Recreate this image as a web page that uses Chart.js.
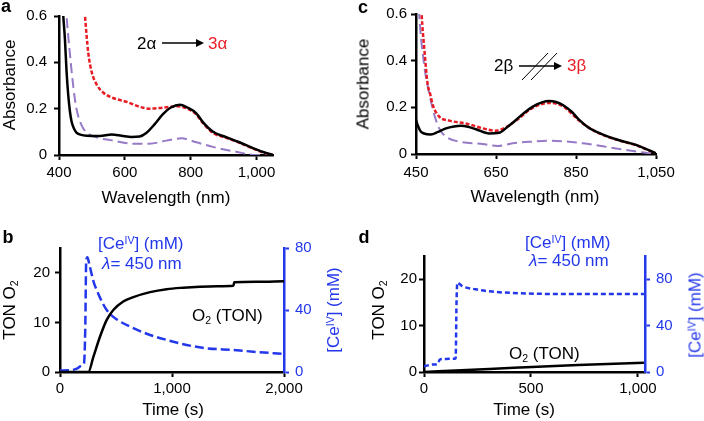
<!DOCTYPE html>
<html>
<head>
<meta charset="utf-8">
<script src="https://cdn.jsdelivr.net/npm/chart.js@4.4.0/dist/chart.umd.min.js"></script>
<style>
  html, body { margin: 0; padding: 0; background: #fff; }
  #wrap { position: relative; width: 704px; height: 421px; overflow: hidden; font-family: 'Liberation Sans', Arial, sans-serif; color: #000; }
  canvas { position: absolute; }
  .t { position: absolute; white-space: nowrap; line-height: 1; font-size: 17px; transform: translateY(-50%); }
  .c { transform: translate(-50%, -50%); }
  .r { transform: translate(-50%, -50%) rotate(-90deg); }
  .sup { position: relative; top: -0.5em; font-size: 0.62em; line-height: 0; }
  .sub { position: relative; top: 0.3em; font-size: 0.62em; line-height: 0; }
  .blue { color: rgb(35, 55, 235); }
  .red { color: rgb(232, 28, 36); }
  .letter { font-weight: bold; font-size: 18px; }
</style>
</head>
<body>
<div id="wrap">
  <canvas id="chartA" width="352" height="210" style="left:0;top:0"></canvas>
  <canvas id="chartC" width="352" height="210" style="left:352px;top:0"></canvas>
  <canvas id="chartB" width="352" height="211" style="left:0;top:210px"></canvas>
  <canvas id="chartD" width="352" height="211" style="left:352px;top:210px"></canvas>

  <div class="t c letter" style="left:6px;top:6px">a</div>
  <div class="t c letter" style="left:363px;top:7px">c</div>
  <div class="t c letter" style="left:8px;top:237px">b</div>
  <div class="t c letter" style="left:364px;top:237px">d</div>

  <!-- axis titles -->
  <div class="t c" style="left:166px;top:197px">Wavelength (nm)</div>
  <div class="t r" style="left:9px;top:85px">Absorbance</div>
  <div class="t c" style="left:535px;top:196px">Wavelength (nm)</div>
  <div class="t r" style="left:363px;top:84px">Absorbance</div>
  <div class="t c" style="left:173px;top:409px">Time (s)</div>
  <div class="t c" style="left:524px;top:409px">Time (s)</div>

  <!-- panel a / c annotations -->
  <div class="t" style="left:137px;top:43px">2α</div>
  <div class="t red" style="left:208px;top:43px">3α</div>
  <div class="t" style="left:494px;top:65px">2β</div>
  <div class="t red" style="left:567px;top:65px">3β</div>

  <!-- panel b -->
  <div class="t r" style="left:9px;top:310px">TON O<span class="sub">2</span></div>
  <div class="t r blue" style="left:333px;top:310px">[Ce<span class="sup">IV</span>] (mM)</div>
  <div class="t blue" style="left:98px;top:243px">[Ce<span class="sup">IV</span>] (mM)</div>
  <div class="t blue" style="left:102px;top:263px"><i>λ</i>= 450 nm</div>
  <div class="t" style="left:192px;top:315px">O<span class="sub">2</span> (TON)</div>

  <!-- panel d -->
  <div class="t r" style="left:378px;top:310px">TON O<span class="sub">2</span></div>
  <div class="t r blue" style="left:695px;top:315px">[Ce<span class="sup">IV</span>] (mM)</div>
  <div class="t blue" style="left:525px;top:242px">[Ce<span class="sup">IV</span>] (mM)</div>
  <div class="t blue" style="left:529px;top:260px"><i>λ</i>= 450 nm</div>
  <div class="t" style="left:509px;top:353px">O<span class="sub">2</span> (TON)</div>
</div>

<script>
// ---- panel a : 2α -> 3α spectra ----
const wlA_black = [408, 413, 418, 423, 428, 433, 438, 445, 453, 465, 484, 524, 560, 590, 620, 645, 665, 690, 715, 740, 767, 790, 817, 837, 868, 908, 948, 989, 1020, 1050];
const absA_black = [0.72, 0.60, 0.50, 0.36, 0.26, 0.19, 0.146, 0.115, 0.097, 0.088, 0.083, 0.082, 0.088, 0.083, 0.078, 0.080, 0.095, 0.132, 0.175, 0.205, 0.217, 0.205, 0.180, 0.142, 0.100, 0.077, 0.055, 0.030, 0.013, 0.0];
const wlA_red = [474, 479, 489, 499, 514, 534, 564, 605, 645, 676, 706, 736, 760, 790, 817, 837, 868, 908, 948, 989, 1020, 1050];
const absA_red = [0.70, 0.60, 0.44, 0.36, 0.305, 0.27, 0.246, 0.23, 0.208, 0.200, 0.203, 0.208, 0.210, 0.200, 0.175, 0.138, 0.095, 0.074, 0.053, 0.028, 0.011, 0.0];
const wlA_purple = [418, 423, 433, 443, 453, 468, 484, 514, 564, 625, 675, 726, 772, 817, 867, 938, 1000, 1050];
const absA_purple = [0.72, 0.60, 0.44, 0.30, 0.20, 0.13, 0.097, 0.076, 0.0625, 0.049, 0.049, 0.062, 0.072, 0.055, 0.035, 0.014, 0.0, 0.0];
const ticksA_x = [400, 600, 800, 1000];
const ticksA_y = [0, 0.2, 0.4, 0.6];

// ---- panel c : 2β -/-> 3β spectra ----
const wlC_black = [450, 455, 462, 470, 487, 505, 525, 545, 562, 580, 600, 633, 658, 680, 700, 720, 742, 765, 783, 800, 817, 840, 858, 880, 900, 950, 1000, 1050];
const absC_black = [0.146, 0.12, 0.096, 0.088, 0.084, 0.095, 0.11, 0.118, 0.121, 0.117, 0.106, 0.088, 0.091, 0.118, 0.146, 0.176, 0.203, 0.221, 0.227, 0.223, 0.21, 0.18, 0.146, 0.115, 0.096, 0.063, 0.039, 0.003];
const wlC_red = [460, 464, 471, 479, 485, 492, 508, 533, 575, 617, 650, 675, 700, 742, 783, 817, 858, 900, 950, 1000, 1050];
const absC_red = [0.75, 0.60, 0.446, 0.30, 0.26, 0.21, 0.16, 0.143, 0.131, 0.11, 0.10, 0.115, 0.143, 0.198, 0.219, 0.205, 0.143, 0.095, 0.062, 0.038, 0.002];
const wlC_purple = [454, 458, 471, 483, 496, 508, 525, 558, 617, 654, 692, 740, 783, 867, 950, 1020, 1050];
const absC_purple = [0.75, 0.60, 0.374, 0.26, 0.167, 0.11, 0.074, 0.053, 0.043, 0.034, 0.046, 0.053, 0.057, 0.046, 0.024, 0.006, 0.0];
const ticksC_x = [450, 650, 850, 1050];
const ticksC_y = [0, 0.2, 0.4, 0.6];

// ---- panel b : O2 (TON) and [CeIV] vs time ----
const timeB_ton = [0, 253, 298, 357, 417, 476, 565, 655, 804, 952, 1100, 1250, 1400, 1548, 1556, 1750, 2000];
const tonB = [0, 0, 3.05, 7.1, 10.5, 12.5, 14.2, 15.1, 16.1, 16.7, 17.0, 17.2, 17.3, 17.4, 18.1, 18.2, 18.3];
const timeB_ce = [0, 100, 150, 200, 215, 226, 234, 244, 262, 283, 305, 327, 360, 417, 506, 655, 804, 952, 1131, 1310, 1548, 1726, 2000];
const ceB = [1, 1.2, 2.2, 4.5, 6, 30, 72, 74, 69.5, 63, 57, 53, 47.5, 40, 34, 28.3, 23.9, 20.7, 17.4, 15.3, 14.2, 13.1, 11.6];
const ticksB_x = [0, 1000, 2000];
const ticksB_ton = [0, 10, 20];
const ticksB_ce = [0, 40, 80];

// ---- panel d ----
const timeD_ton = [0, 200, 444, 720, 1028];
const tonD = [0, 0.42, 0.95, 1.5, 2.0];
const timeD_ce = [0, 39, 65, 73, 101, 148, 152, 156, 179, 241, 319, 444, 600, 800, 1028];
const ceD = [4.9, 6.4, 7, 10.7, 11.3, 11.6, 60, 77, 74, 71.3, 69.3, 67.9, 67.3, 67.3, 67.3];
const ticksD_x = [0, 500, 1000];
const ticksD_ton = [0, 10, 20];
const ticksD_ce = [0, 40, 80];

const BLACK = '#000';
const RED = 'rgb(232,28,36)';
const PURPLE = 'rgb(150,122,200)';
const BLUE = 'rgb(35,55,235)';

Chart.defaults.font.family = "'Liberation Sans', Arial, sans-serif";
Chart.defaults.color = '#000';

const pts = (xs, ys) => xs.map((x, i) => ({ x, y: ys[i] }));

function line(data, color, width, dash, yAxisID) {
    return {
        data,
        yAxisID: yAxisID || 'y',
        borderColor: color,
        borderWidth: width,
        borderDash: dash || [],
        pointRadius: 0,
        cubicInterpolationMode: 'monotone',
        fill: false,
        clip: 0
    };
}

// axis titles live in the HTML overlay (they need sub/superscripts)
function axis(o) {
    const horiz = o.pos === 'bottom';
    return {
        type: 'linear',
        position: o.pos,
        min: o.min,
        max: o.max,
        afterBuildTicks: s => { s.ticks = o.ticks.map(v => ({ value: v })); },
        afterFit: s => { if (horiz) s.height = o.size; else s.width = o.size; },
        ticks: {
            font: { size: 15 },
            color: o.color || BLACK,
            padding: o.pad,
            maxRotation: 0,
            autoSkip: false,
            callback: v => v.toLocaleString('en-US')
        },
        grid: { drawOnChartArea: false, tickLength: 5, tickWidth: 2, tickColor: o.color || BLACK },
        border: { color: o.color || BLACK, width: 2.5 },
        title: { display: false }
    };
}

function makeChart(id, datasets, scales, padding, extra) {
    return new Chart(document.getElementById(id), {
        type: 'line',
        data: { datasets },
        options: {
            responsive: false,
            animation: false,
            devicePixelRatio: 1,
            layout: { padding },
            plugins: { legend: { display: false }, tooltip: { enabled: false } },
            scales
        },
        plugins: extra ? [extra] : []
    });
}

// arrows for reaction schemes (panel-local pixel positions)
function arrow(ctx, x1, x2, y) {
    ctx.strokeStyle = BLACK;
    ctx.fillStyle = BLACK;
    ctx.lineWidth = 1.5;
    ctx.beginPath(); ctx.moveTo(x1, y); ctx.lineTo(x2 - 6, y); ctx.stroke();
    ctx.beginPath(); ctx.moveTo(x2, y); ctx.lineTo(x2 - 8, y - 4); ctx.lineTo(x2 - 8, y + 4); ctx.closePath(); ctx.fill();
}

const schemeA = {
    id: 'schemeA',
    afterDraw(chart) {
        const ctx = chart.ctx;
        ctx.save();
        arrow(ctx, 162, 204, 43);
        ctx.restore();
    }
};

const schemeC = {
    id: 'schemeC',
    afterDraw(chart) {
        const ctx = chart.ctx;
        ctx.save();
        arrow(ctx, 167, 210, 66);
        ctx.lineWidth = 1;
        ctx.beginPath();
        ctx.moveTo(170, 80); ctx.lineTo(196, 53);
        ctx.moveTo(179, 80); ctx.lineTo(205, 53);
        ctx.stroke();
        ctx.restore();
    }
};

// panel a
makeChart('chartA', [
    line(pts(wlA_black, absA_black), BLACK, 2.5),
    line(pts(wlA_red, absA_red), RED, 2.5, [4, 2]),
    line(pts(wlA_purple, absA_purple), PURPLE, 2, [10, 5])
], {
    x: axis({ pos: 'bottom', min: 400, max: 1050, ticks: ticksA_x, size: 55, pad: 4 }),
    y: axis({ pos: 'left', min: 0, max: 0.6, ticks: ticksA_y, size: 59, pad: 7 })
}, { left: 0, top: 11, right: 79, bottom: 0 }, schemeA);

// panel c
makeChart('chartC', [
    line(pts(wlC_black, absC_black), BLACK, 2.5),
    line(pts(wlC_red, absC_red), RED, 2.5, [4, 2]),
    line(pts(wlC_purple, absC_purple), PURPLE, 2, [10, 5])
], {
    x: axis({ pos: 'bottom', min: 450, max: 1050, ticks: ticksC_x, size: 56, pad: 5 }),
    y: axis({ pos: 'left', min: 0, max: 0.6, ticks: ticksC_y, size: 64, pad: 4 })
}, { left: 0, top: 14, right: 48, bottom: 0 }, schemeC);

// panel b
makeChart('chartB', [
    line(pts(timeB_ton, tonB), BLACK, 2.5),
    line(pts(timeB_ce, ceB), BLUE, 2.5, [9, 4], 'y2')
], {
    x: axis({ pos: 'bottom', min: 0, max: 2000, ticks: ticksB_x, size: 49, pad: 3 }),
    y: axis({ pos: 'left', min: 0, max: 25, ticks: ticksB_ton, size: 60, pad: 5 }),
    y2: axis({ pos: 'right', min: 0, max: 80, ticks: ticksB_ce, size: 40, pad: 6, color: BLUE })
}, { left: 0, top: 38, right: 28, bottom: 0 });

// panel d
makeChart('chartD', [
    line(pts(timeD_ton, tonD), BLACK, 2.5),
    line(pts(timeD_ce, ceD), BLUE, 2.5, [5, 3], 'y2')
], {
    x: axis({ pos: 'bottom', min: 0, max: 1033, ticks: ticksD_x, size: 49, pad: 3 }),
    y: axis({ pos: 'left', min: 0, max: 25, ticks: ticksD_ton, size: 72, pad: 2 }),
    y2: axis({ pos: 'right', min: 0, max: 100, ticks: ticksD_ce, size: 40, pad: 6, color: BLUE })
}, { left: 0, top: 46, right: 19, bottom: 0 });
</script>
</body>
</html>
